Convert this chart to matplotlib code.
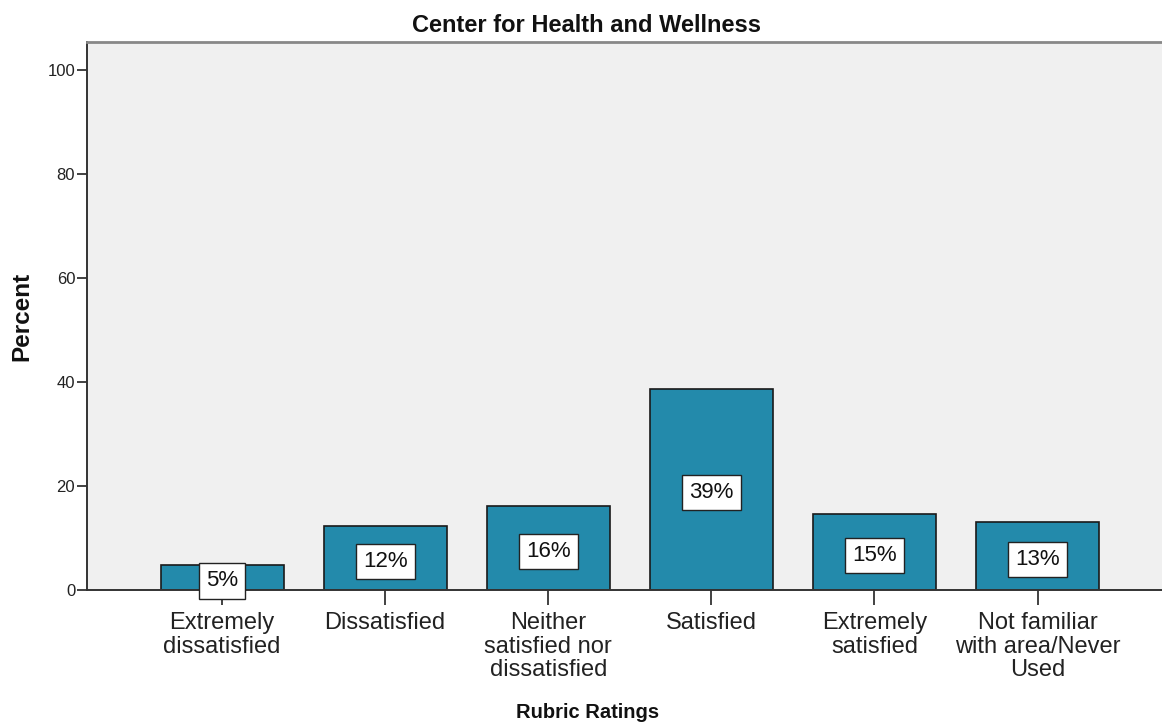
import matplotlib.pyplot as plt
import numpy as np

plt.rcParams['font.family'] = ['Liberation Sans', 'DejaVu Sans']

# Données
categories = ['Extremely\ndissatisfied', 'Dissatisfied', 'Neither\nsatisfied nor\ndissatisfied',
              'Satisfied', 'Extremely\nsatisfied', 'Not familiar\nwith area/Never\nUsed']
percents = [4.8, 12.3, 16.2, 38.7, 14.6, 13.1]
bar_labels = ['5%', '12%', '16%', '39%', '15%', '13%']
y_ticks = [0, 20, 40, 60, 80, 100]

bar_color = '#238AAB'
bg_color = '#F0F0F0'

fig = plt.figure(figsize=(11.62, 7.25), dpi=100)
ax = fig.add_axes([87 / 1162, 1 - 590 / 725, 1 - 87 / 1162, (590 - 42) / 725])
ax.set_facecolor(bg_color)

x = np.arange(len(categories))
ax.bar(x, percents, width=0.754, color=bar_color, edgecolor='#1a1a1a', linewidth=1.2, zorder=2)

# Étiquettes dans les barres (légèrement sous le milieu)
for xi, v, lab in zip(x, percents, bar_labels):
    ax.text(xi, v / 2 - 0.65, lab, ha='center', va='center', fontsize=16, color='#111111',
            zorder=5, clip_on=False,
            bbox=dict(boxstyle='square,pad=0.32', facecolor='white', edgecolor='#222222', linewidth=1.0))

ax.set_xlim(-0.828, 5.763)
ax.set_ylim(0, 105.4)
ax.set_yticks(y_ticks)
ax.set_yticklabels([str(t) for t in y_ticks])
ax.set_xticks(x)
ax.set_xticklabels(categories, fontsize=17, color='#222222')
for lbl in ax.get_xticklabels():
    lbl.set_linespacing(1.08)

ax.tick_params(axis='x', direction='out', length=11, width=1.3, color='#333333', pad=5)
ax.tick_params(axis='y', direction='out', length=7, width=1.3, color='#333333', pad=1.5,
               labelsize=12, labelcolor='#222222')

# Axes / bordures
ax.spines['left'].set_color('#333333')
ax.spines['left'].set_linewidth(1.4)
ax.spines['bottom'].set_color('#333333')
ax.spines['bottom'].set_linewidth(1.4)
ax.spines['bottom'].set_zorder(3)
ax.spines['top'].set_color('#888888')
ax.spines['top'].set_linewidth(2)
ax.spines['right'].set_visible(False)

# Titres
fig.text(586 / 1162, 1 - 26 / 725, 'Center for Health and Wellness', ha='center', va='center',
         fontsize=17, fontweight='bold', color='#111111')
fig.text(588 / 1162, 1 - 712 / 725, 'Rubric Ratings', ha='center', va='center',
         fontsize=14.5, fontweight='bold', color='#111111')
fig.text(22 / 1162, 1 - 316 / 725, 'Percent', ha='center', va='center', rotation=90,
         fontsize=17.5, fontweight='bold', color='#111111')

fig.savefig('out.png', dpi=100)
